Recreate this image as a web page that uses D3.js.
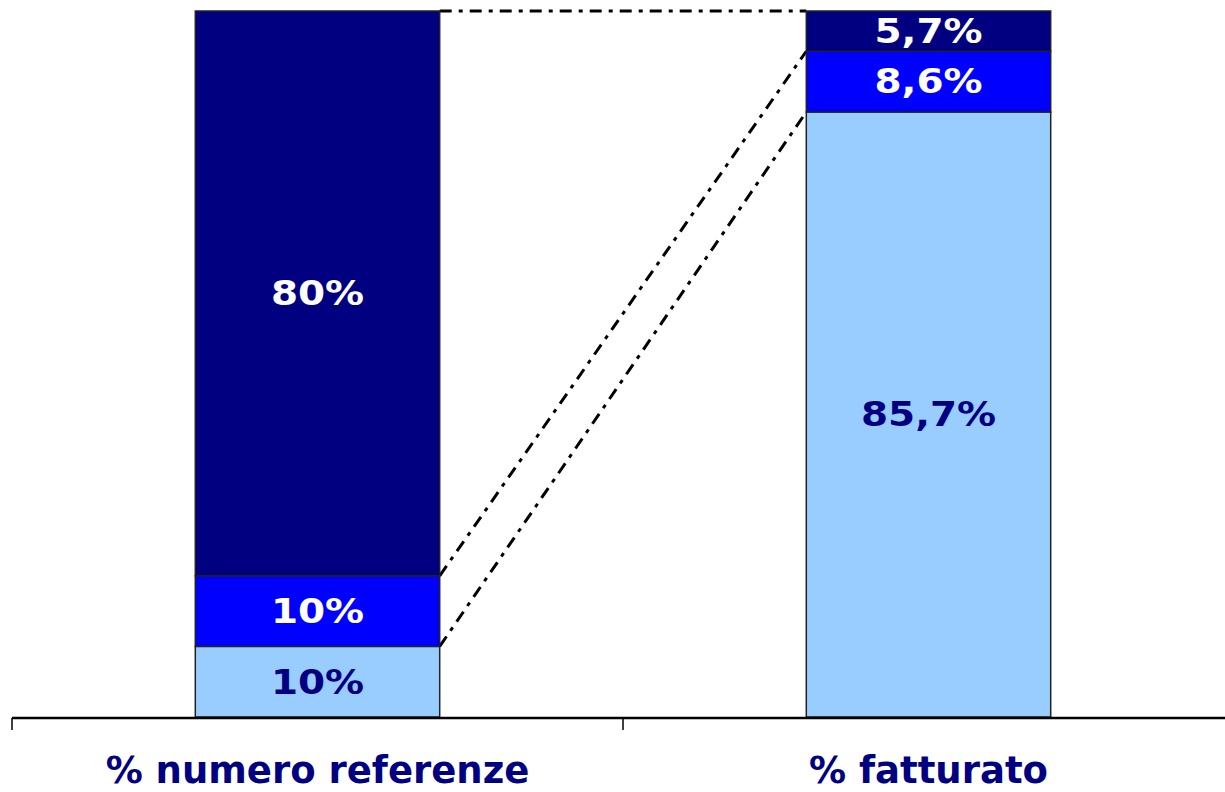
<!DOCTYPE html>
<html>
<head>
<meta charset="utf-8">
<script src="https://cdn.jsdelivr.net/npm/d3@7"></script>
<style>
  html, body { margin: 0; padding: 0; background: #fff; }
  svg { display: block; }
  text { font-family: "DejaVu Sans", Verdana, sans-serif; font-weight: bold; }
</style>
</head>
<body>
<svg id="chart" width="1225" height="792"></svg>
<script>
// ABC analysis: share of items vs. share of revenue
const categories = ["% numero referenze", "% fatturato"];
const classes = ["A", "B", "C"];               // stacked bottom -> top
const classA = [10, 85.7];
const classB = [10, 8.6];
const classC = [80, 5.7];

const fills = { A: "#99ccff", B: "#0000ff", C: "#000080" };
const labelColors = { A: "#000080", B: "#ffffff", C: "#ffffff" };

const it = d3.formatLocale({ decimal: ",", thousands: ".", grouping: [3], currency: ["€", ""] });
const fmt = v => it.format(".1~f")(v) + "%";

const rows = categories.map((c, i) => ({ cat: c, A: classA[i], B: classB[i], C: classC[i] }));
const stacked = d3.stack().keys(classes)(rows);

const svg = d3.select("#chart");
const x = d3.scaleBand().domain(categories).range([12, 1234]).paddingInner(0.6).paddingOuter(0.3);
const y = d3.scaleLinear().domain([0, 100]).range([717, 11]);

// connectors between the tops of matching segments
const g0 = categories[0], g1 = categories[1];
svg.append("g").selectAll("line").data(stacked.map(s => ({ y0: s[0][1], y1: s[1][1] }))).join("line")
  .attr("x1", x(g0) + x.bandwidth()).attr("x2", x(g1))
  .attr("y1", d => y(d.y0)).attr("y2", d => y(d.y1))
  .attr("stroke", "#000").attr("stroke-width", 3)
  .attr("stroke-dasharray", "12,7,4,7");

// stacked segments
const layer = svg.append("g").selectAll("g").data(stacked).join("g");
layer.selectAll("rect").data(s => s.map(d => ({ key: s.key, d }))).join("rect")
  .attr("x", e => x(e.d.data.cat))
  .attr("width", x.bandwidth())
  .attr("y", e => y(e.d[1]))
  .attr("height", e => y(e.d[0]) - y(e.d[1]))
  .attr("fill", e => fills[e.key])
  .attr("stroke", "#222").attr("stroke-width", 1.5);

// value labels, set in a wide bold face
layer.selectAll("text").data(s => s.map(d => ({ key: s.key, d }))).join("text")
  .attr("transform", e => `translate(${x(e.d.data.cat) + x.bandwidth() / 2},${(y(e.d[0]) + y(e.d[1])) / 2}) scale(1.18,1)`)
  .attr("dy", "0.36em")
  .attr("text-anchor", "middle")
  .attr("font-size", 33)
  .attr("fill", e => labelColors[e.key])
  .text(e => fmt(e.d[1] - e.d[0]));

// category axis: baseline with ticks at band boundaries
const axis = svg.append("g");
const [r0, r1] = x.range();
axis.append("line").attr("x1", r0).attr("x2", r1).attr("y1", 718).attr("y2", 718)
  .attr("stroke", "#000").attr("stroke-width", 2.5);
axis.selectAll("line.tick").data(d3.range(categories.length + 1)).join("line")
  .attr("class", "tick")
  .attr("x1", i => r0 + i * x.step()).attr("x2", i => r0 + i * x.step())
  .attr("y1", 718).attr("y2", 730)
  .attr("stroke", "#000").attr("stroke-width", 1.5);
axis.selectAll("text").data(categories).join("text")
  .attr("x", c => x(c) + x.bandwidth() / 2)
  .attr("y", 783)
  .attr("text-anchor", "middle")
  .attr("font-size", 37)
  .attr("fill", "#000080")
  .text(c => c);
</script>
</body>
</html>
